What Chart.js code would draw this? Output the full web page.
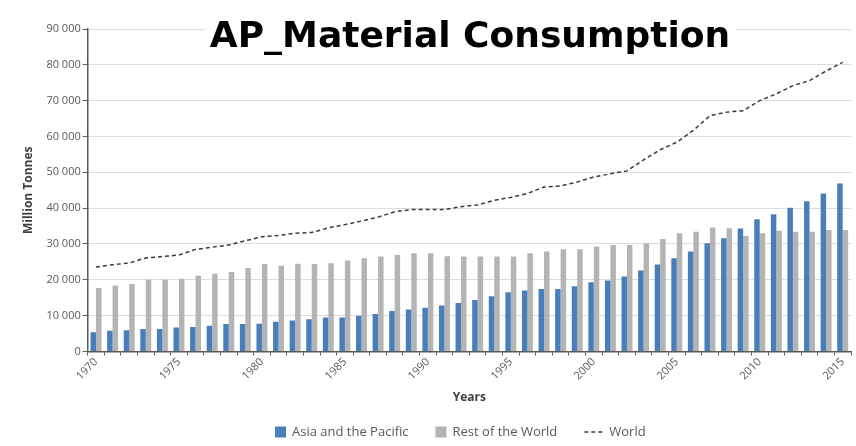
<!DOCTYPE html>
<html>
<head>
<meta charset="utf-8">
<style>
  html, body { margin: 0; padding: 0; background: #fff; }
  #wrap { width: 856px; height: 446px; }
</style>
</head>
<body>
<div id="wrap"><canvas id="chart" width="856" height="446"></canvas></div>
<script src="https://cdn.jsdelivr.net/npm/chart.js"></script>
<script>
    const years = [];
    for (let y = 1970; y <= 2015; y++) years.push(y);

    // million tonnes, 1970 - 2015
    const asiaPacific = [
        5400, 5800, 5900, 6300, 6300, 6700, 6800, 7200, 7700, 7700,
        7750, 8300, 8650, 9000, 9450, 9500, 10000, 10450, 11300, 11750,
        12200, 12800, 13500, 14350, 15400, 16500, 17000, 17450, 17450, 18200,
        19350, 19800, 20900, 22600, 24300, 26000, 27900, 30200, 31600, 34350,
        36900, 38300, 40100, 41900, 44100, 46900
    ];
    const restOfWorld = [
        17700, 18400, 18800, 20000, 20000, 20300, 21100, 21700, 22200, 23300,
        24400, 23900, 24500, 24400, 24600, 25400, 26000, 26500, 26900, 27400,
        27400, 26600, 26500, 26500, 26500, 26500, 27400, 27900, 28500, 28500,
        29300, 29700, 29700, 30200, 31400, 33000, 33400, 34600, 34400, 32200,
        33000, 33700, 33400, 33400, 33900, 33900
    ];
    const world = [
        23600, 24200, 24700, 26100, 26500, 26900, 28500, 29100, 29700, 30900,
        32000, 32400, 33000, 33200, 34500, 35400, 36400, 37500, 39000, 39600,
        39600, 39600, 40400, 40900, 42200, 43000, 44100, 45900, 46200, 47300,
        48700, 49600, 50400, 53500, 56300, 58400, 61700, 65800, 66800, 67200,
        70000, 71900, 74200, 75600, 78300, 80700
    ];

    const fmt = v => String(v).replace(/\B(?=(\d{3})+(?!\d))/g, ' ');
    const tickFont = { family: 'Open Sans', size: 11 };
    const axisTitleFont = { family: 'Open Sans', size: 12, weight: 'bold' };

    // big title sits on a white box over the top gridlines
    const titleBox = {
        id: 'titleBox',
        afterDraw(chart) {
            const ctx = chart.ctx;
            ctx.save();
            ctx.fillStyle = '#fff';
            ctx.fillRect(205, 14, 530, 42);
            ctx.font = 'bold 36px "DejaVu Sans"';
            ctx.fillStyle = '#000';
            ctx.textAlign = 'center';
            ctx.textBaseline = 'alphabetic';
            ctx.fillText('AP_Material Consumption', 470, 47);
            ctx.restore();
        }
    };

    // legend row under the axis title: squares for bars, dashed stub for the line
    const bottomLegend = {
        id: 'bottomLegend',
        afterDraw(chart) {
            const ctx = chart.ctx;
            const y = 432;
            let x = 275;
            ctx.save();
            ctx.font = '13px "Open Sans"';
            ctx.textBaseline = 'middle';
            chart.data.datasets.forEach(ds => {
                if (ds.type === 'line') {
                    ctx.strokeStyle = ds.borderColor;
                    ctx.lineWidth = 1.5;
                    ctx.setLineDash(ds.borderDash);
                    ctx.beginPath();
                    ctx.moveTo(x, y);
                    ctx.lineTo(x + 18, y);
                    ctx.stroke();
                    ctx.setLineDash([]);
                    x += 25;
                } else {
                    ctx.fillStyle = ds.backgroundColor;
                    ctx.fillRect(x, y - 5.5, 11, 11);
                    x += 17;
                }
                ctx.fillStyle = '#595959';
                ctx.fillText(ds.label, x, y);
                x += ctx.measureText(ds.label).width + 27;
            });
            ctx.restore();
        }
    };

    const ctx = document.getElementById('chart').getContext('2d');
    new Chart(ctx, {
        type: 'bar',
        data: {
            labels: years,
            datasets: [{
                label: 'Asia and the Pacific',
                data: asiaPacific,
                backgroundColor: '#4a7ebb',
                borderWidth: 0,
                barPercentage: 1.0,
                categoryPercentage: 0.66
            }, {
                label: 'Rest of the World',
                data: restOfWorld,
                backgroundColor: '#b4b4b4',
                borderWidth: 0,
                barPercentage: 1.0,
                categoryPercentage: 0.66
            }, {
                type: 'line',
                label: 'World',
                data: world,
                borderColor: '#3a3a3a',
                backgroundColor: '#3a3a3a',
                borderWidth: 1.5,
                borderDash: [4, 3],
                pointRadius: 0,
                tension: 0,
                fill: false
            }]
        },
        options: {
            responsive: false,
            animation: false,
            layout: { padding: { top: 29, right: 5, bottom: 41, left: 12 } },
            plugins: {
                title: { display: false },
                tooltip: { enabled: false },
                legend: { display: false }
            },
            scales: {
                x: {
                    ticks: {
                        autoSkip: false,
                        minRotation: 45,
                        maxRotation: 45,
                        padding: 0,
                        color: '#595959',
                        font: tickFont,
                        callback: function (v, i) {
                            return years[i] % 5 === 0 ? String(years[i]) : '';
                        }
                    },
                    grid: { color: 'transparent', tickColor: '#595959', tickLength: 4 },
                    border: { color: '#595959', width: 1.5 },
                    title: { display: true, text: 'Years', color: '#404040', font: axisTitleFont, padding: { top: 8, bottom: 0 } }
                },
                y: {
                    min: 0,
                    max: 90000,
                    ticks: {
                        stepSize: 10000,
                        padding: 2,
                        color: '#595959',
                        font: tickFont,
                        callback: v => fmt(v)
                    },
                    grid: { color: '#dcdcdc', tickColor: '#595959', tickLength: 5 },
                    border: { color: '#595959', width: 1.5 },
                    title: { display: true, text: 'Million Tonnes', color: '#404040', font: axisTitleFont, padding: 9 }
                }
            }
        },
        plugins: [titleBox, bottomLegend]
    });
</script>
</body>
</html>
